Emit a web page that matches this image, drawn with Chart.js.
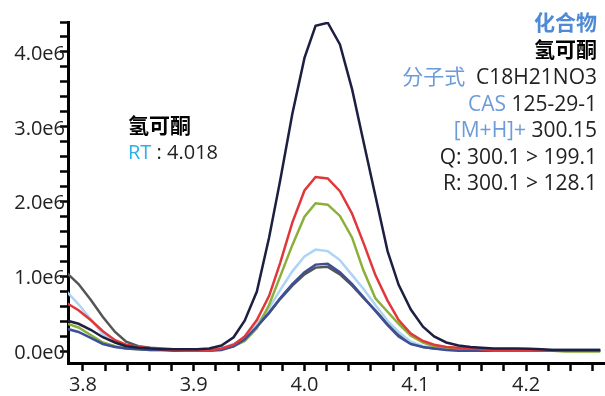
<!DOCTYPE html>
<html>
<head>
<meta charset="utf-8">
<script src="https://cdn.jsdelivr.net/npm/chart.js@4.4.1/dist/chart.umd.min.js"></script>
<style>
  html, body { margin: 0; padding: 0; background: #fff; }
  #wrap { width: 605px; height: 396px; }
</style>
</head>
<body>
<div id="wrap"><canvas id="xicChart" width="605" height="396"></canvas></div>
<script>
// Retention times (min)
const times = [
  3.786, 3.796, 3.807, 3.818, 3.829, 3.839, 3.850, 3.861, 3.871, 3.882,
  3.893, 3.903, 3.914, 3.925, 3.936, 3.946, 3.957, 3.968, 3.978, 3.989,
  4.000, 4.010, 4.021, 4.032, 4.043, 4.053, 4.064, 4.075, 4.085, 4.096,
  4.107, 4.117, 4.128, 4.139, 4.150, 4.160, 4.171, 4.182, 4.192, 4.203,
  4.214, 4.224, 4.235, 4.246, 4.257, 4.267
];

// Intensities, in millions (axis labels read xe6)
const traceNavy = [
  0.41, 0.37, 0.29, 0.19, 0.12, 0.07, 0.05, 0.04, 0.03, 0.03,
  0.03, 0.03, 0.04, 0.08, 0.19, 0.41, 0.80, 1.52, 2.28, 3.17,
  3.92, 4.35, 4.39, 4.10, 3.50, 2.82, 2.08, 1.34, 0.89, 0.56,
  0.33, 0.20, 0.12, 0.08, 0.06, 0.05, 0.04, 0.04, 0.04, 0.035,
  0.03, 0.02, 0.02, 0.02, 0.02, 0.02
];
const traceRed = [
  0.64, 0.55, 0.42, 0.27, 0.15, 0.09, 0.06, 0.04, 0.03, 0.02,
  0.01, 0.01, 0.01, 0.04, 0.09, 0.20, 0.42, 0.74, 1.18, 1.72,
  2.15, 2.33, 2.31, 2.14, 1.84, 1.46, 1.02, 0.68, 0.42, 0.24,
  0.14, 0.09, 0.06, 0.05, 0.04, 0.03, 0.01, 0.01, 0.01, 0.01,
  0.01, 0.01, 0.01, 0.01, 0.01, 0.01
];
const traceBlue = [
  0.30, 0.26, 0.18, 0.10, 0.06, 0.04, 0.03, 0.02, 0.02, 0.01,
  0.01, 0.01, 0.01, 0.02, 0.07, 0.16, 0.33, 0.52, 0.71, 0.90,
  1.06, 1.16, 1.17, 1.06, 0.90, 0.73, 0.54, 0.35, 0.20, 0.10,
  0.06, 0.04, 0.02, 0.01, 0.01, 0.01, 0.01, 0.01, 0.01, 0.01,
  0.01, 0.01, 0.01, 0.01, 0.01, 0.01
];
const traceGreen = [
  0.37, 0.32, 0.22, 0.12, 0.07, 0.04, 0.03, 0.02, 0.02, 0.02,
  0.02, 0.02, 0.02, 0.03, 0.07, 0.14, 0.31, 0.62, 1.00, 1.42,
  1.80, 1.98, 1.96, 1.81, 1.52, 1.09, 0.71, 0.53, 0.37, 0.21,
  0.12, 0.07, 0.05, 0.04, 0.03, 0.02, 0.02, 0.02, 0.02, 0.02,
  0.01, 0.01, 0.00, 0.00, 0.00, 0.00
];
const traceLightBlue = [
  0.79, 0.63, 0.43, 0.23, 0.12, 0.07, 0.05, 0.04, 0.03, 0.02,
  0.02, 0.02, 0.02, 0.04, 0.10, 0.18, 0.36, 0.58, 0.82, 1.07,
  1.27, 1.36, 1.34, 1.22, 1.02, 0.84, 0.62, 0.41, 0.26, 0.13,
  0.07, 0.05, 0.04, 0.03, 0.02, 0.02, 0.02, 0.02, 0.02, 0.02,
  0.02, 0.02, 0.02, 0.02, 0.02, 0.02
];
const traceGray = [
  1.04, 0.90, 0.69, 0.46, 0.26, 0.13, 0.07, 0.05, 0.04, 0.03,
  0.02, 0.02, 0.02, 0.03, 0.08, 0.17, 0.33, 0.51, 0.70, 0.88,
  1.03, 1.12, 1.13, 1.03, 0.88, 0.72, 0.55, 0.37, 0.22, 0.12,
  0.06, 0.04, 0.03, 0.02, 0.02, 0.02, 0.02, 0.02, 0.02, 0.02,
  0.02, 0.02, 0.02, 0.02, 0.02, 0.02
];

// Axis ticks
const xTickValues = [3.8, 3.9, 4.0, 4.1, 4.2];
const xTickLabels = ['3.8', '3.9', '4.0', '4.1', '4.2'];
const yTickValues = [0, 1, 2, 3, 4];
const yTickLabels = ['0.0e0', '1.0e6', '2.0e6', '3.0e6', '4.0e6'];

// Annotation text
const compoundName = '氢可酮';
const retentionTime = '4.018';
const infoLines = [
  [{ text: '化合物', color: '#4f8ad6', bold: true }],
  [{ text: '氢可酮', color: '#000', bold: true }],
  [{ text: '分子式', color: '#6b9bd9' }, { text: '  C18H21NO3', color: '#222' }],
  [{ text: 'CAS', color: '#6b9bd9' }, { text: ' 125-29-1', color: '#222' }],
  [{ text: '[M+H]+', color: '#6b9bd9' }, { text: ' 300.15', color: '#222' }],
  [{ text: 'Q: 300.1 > 199.1', color: '#222' }],
  [{ text: 'R: 300.1 > 128.1', color: '#222' }]
];

const FONT = "'Open Sans', 'Noto Sans CJK SC', sans-serif";
Chart.defaults.font.family = FONT;

function series(values) {
  return times.map((t, i) => ({ x: t, y: values[i] }));
}

function lookupLabel(value, values, labels) {
  for (let i = 0; i < values.length; i++) {
    if (Math.abs(value - values[i]) < 1e-6) return labels[i];
  }
  return '';
}

// Draw the text blocks on the canvas
const textPlugin = {
  id: 'textBlocks',
  afterDraw(chart) {
    const ctx = chart.ctx;
    ctx.save();
    ctx.textBaseline = 'middle';

    // right-hand info block, right aligned
    const rowY = [24, 51, 78, 105, 131, 158, 184];
    infoLines.forEach((segs, r) => {
      let x = 597;
      for (let i = segs.length - 1; i >= 0; i--) {
        const s = segs[i];
        ctx.font = (s.bold ? 'bold ' : '') + '21px ' + FONT;
        ctx.fillStyle = s.color;
        ctx.textAlign = 'right';
        ctx.fillText(s.text, x, rowY[r]);
        x -= ctx.measureText(s.text).width;
      }
    });

    // peak label
    ctx.textAlign = 'left';
    ctx.font = 'bold 21px ' + FONT;
    ctx.fillStyle = '#000';
    ctx.fillText(compoundName, 128, 127);
    ctx.font = '20px ' + FONT;
    ctx.fillStyle = '#2bb0ec';
    ctx.fillText('RT', 128, 153);
    const w = ctx.measureText('RT').width;
    ctx.fillStyle = '#222';
    ctx.fillText(' : ' + retentionTime, 128 + w, 153);
    ctx.restore();
  }
};

function lineSet(values, color) {
  return {
    data: series(values),
    borderColor: color,
    borderWidth: 2.5,
    pointRadius: 0,
    tension: 0,
    fill: false
  };
}

new Chart(document.getElementById('xicChart'), {
  type: 'line',
  data: {
    datasets: [
      lineSet(traceNavy, '#1d1f42'),
      lineSet(traceRed, '#e0383a'),
      lineSet(traceBlue, '#3c4f97'),
      lineSet(traceGreen, '#8bb03a'),
      lineSet(traceLightBlue, '#aed4f5'),
      lineSet(traceGray, '#555555')
    ]
  },
  options: {
    responsive: false,
    devicePixelRatio: 1,
    animation: false,
    layout: { padding: { top: 22, right: 0, left: 0, bottom: 0 } },
    plugins: {
      legend: { display: false },
      tooltip: { enabled: false }
    },
    scales: {
      x: {
        type: 'linear',
        min: 3.7865,
        max: 4.2713,
        afterFit: function(scale) { scale.height = 33; },
        border: { color: '#000', width: 3 },
        grid: {
          drawOnChartArea: false,
          tickLength: 8,
          tickColor: '#000',
          tickWidth: 2.5
        },
        ticks: {
          stepSize: 0.02,
          includeBounds: false,
          autoSkip: false,
          maxRotation: 0,
          padding: 2,
          color: '#222',
          font: { size: 20 },
          callback: function(value) {
            return lookupLabel(value, xTickValues, xTickLabels);
          }
        }
      },
      y: {
        type: 'linear',
        min: -0.154,
        max: 4.4,
        afterFit: function(scale) { scale.width = 68; },
        border: { color: '#000', width: 3 },
        grid: {
          drawOnChartArea: false,
          tickLength: 8,
          tickColor: '#000',
          tickWidth: 2.5
        },
        ticks: {
          stepSize: 0.2,
          includeBounds: false,
          autoSkip: false,
          padding: -5,
          labelOffset: 2,
          color: '#222',
          font: { size: 20 },
          callback: function(value) {
            return lookupLabel(value, yTickValues, yTickLabels);
          }
        }
      }
    }
  },
  plugins: [textPlugin]
});
</script>
</body>
</html>
